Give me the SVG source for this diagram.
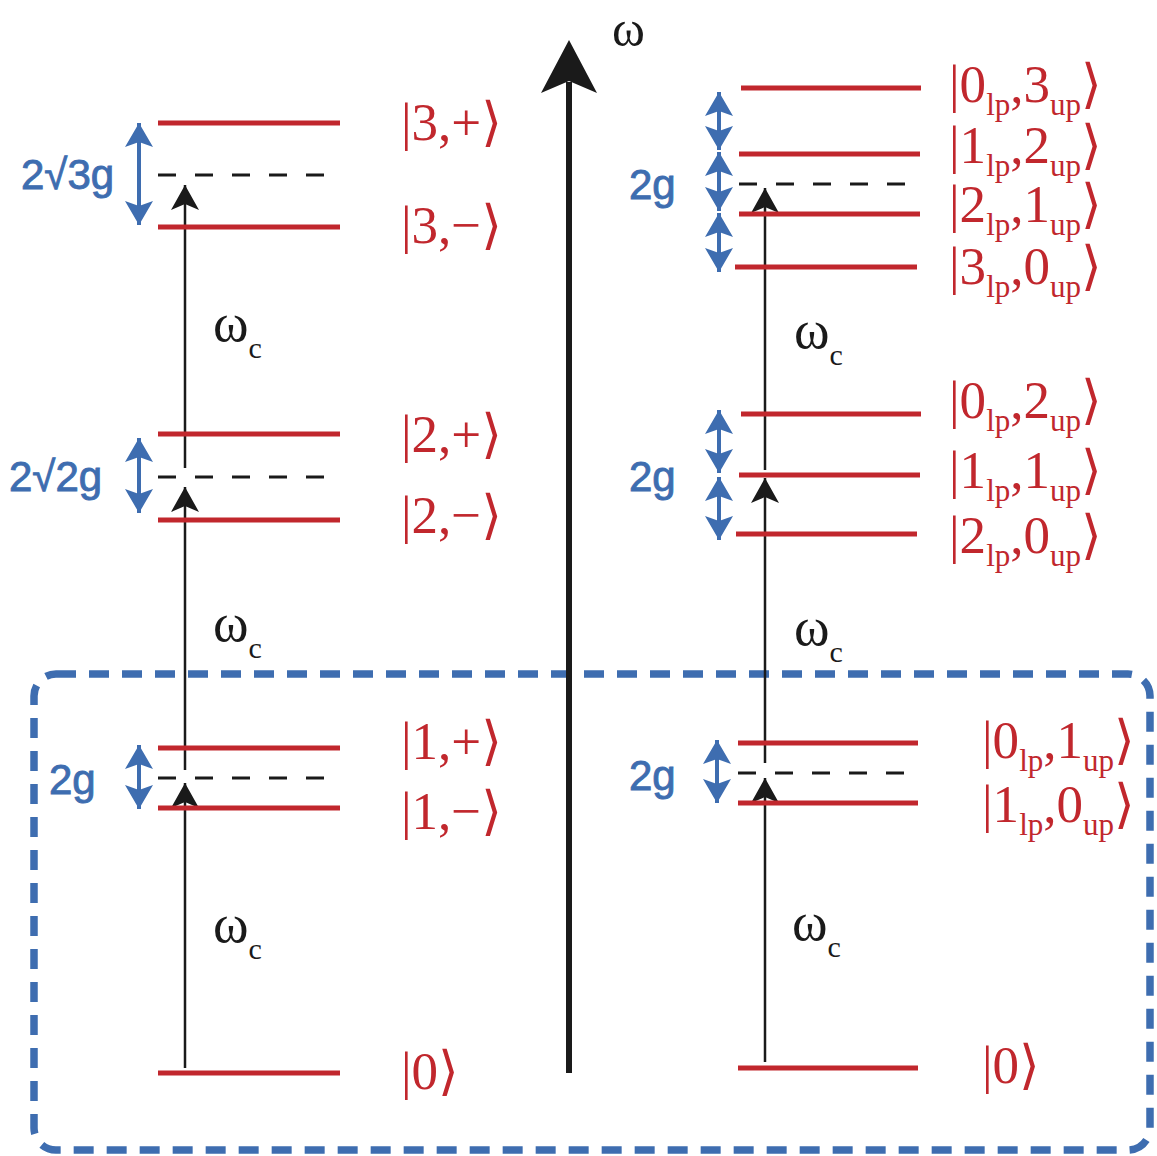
<svg xmlns="http://www.w3.org/2000/svg" width="1157" height="1156" viewBox="0 0 1157 1156">
<style>
.lvl{stroke:#c1272d;stroke-width:5;fill:none}
.dsh{stroke:#1a1a1a;stroke-width:3;stroke-dasharray:18 19;fill:none}
.tr{stroke:#1a1a1a;stroke-width:2.5;fill:none;marker-end:url(#ahk)}
.sp{stroke:#3e6db0;stroke-width:4;fill:none;marker-start:url(#ahb);marker-end:url(#ahb)}
.ket{font-family:"Liberation Serif","DejaVu Serif",serif;font-size:53px;fill:#c1272d}
.sub{font-size:31px}
.gl{font-family:"Liberation Sans",Arial,sans-serif;font-size:42px;fill:#3e6db0;stroke:#3e6db0;stroke-width:0.9}
.om{font-family:"Liberation Serif","DejaVu Serif",serif;font-size:54px;fill:#1a1a1a}
.oc{font-size:30px}
</style>
<defs>
<marker id="ahk" viewBox="-26 -15 28 30" markerWidth="28" markerHeight="30" refX="0" refY="0" orient="auto" markerUnits="userSpaceOnUse"><path d="M0,0 L-25,-14 L-19,0 L-25,14 Z" fill="#1a1a1a"/></marker>
<marker id="ahb" viewBox="-26 -15 28 30" markerWidth="28" markerHeight="30" refX="0" refY="0" orient="auto-start-reverse" markerUnits="userSpaceOnUse"><path d="M0,0 L-24,-14 L-19,0 L-24,14 Z" fill="#3e6db0"/></marker>
</defs>

<g id="box"><rect x="34" y="674" width="1116" height="476" rx="22" fill="none" stroke="#3e6db0" stroke-width="7.5" stroke-dasharray="20 13"/></g>

<g id="axis">
<line x1="569" y1="1073" x2="569" y2="82" stroke="#1a1a1a" stroke-width="6"/>
<path d="M569,40 L541,93 L569,81 L597,93 Z" fill="#1a1a1a"/>
<text x="612" y="46" class="om" style="font-size:50px">ω</text>
</g>

<g id="connectors">
<line class="tr" x1="185" y1="1068" x2="185" y2="783"/>
<line class="tr" x1="185" y1="770" x2="185" y2="487"/>
<line class="tr" x1="185" y1="468" x2="185" y2="185"/>
<line class="tr" x1="765" y1="1062" x2="765" y2="778"/>
<line class="tr" x1="765" y1="763" x2="765" y2="478"/>
<line class="tr" x1="765" y1="470" x2="765" y2="188"/>
<line class="sp" x1="139" y1="123" x2="139" y2="225"/>
<line class="sp" x1="139" y1="438" x2="139" y2="513"/>
<line class="sp" x1="139" y1="745" x2="139" y2="809"/>
<line class="sp" x1="719" y1="92" x2="719" y2="150"/>
<line class="sp" x1="719" y1="152" x2="719" y2="211"/>
<line class="sp" x1="719" y1="213" x2="719" y2="272"/>
<line class="sp" x1="719" y1="410" x2="719" y2="473"/>
<line class="sp" x1="719" y1="477" x2="719" y2="540"/>
<line class="sp" x1="717" y1="740" x2="717" y2="803"/>
</g>

<g id="left-n3">
<line class="lvl" x1="158" y1="123" x2="340" y2="123"/>
<line class="dsh" x1="158" y1="175" x2="325" y2="175"/>
<line class="lvl" x1="158" y1="227" x2="340" y2="227"/>
<text class="ket" x="401" y="140">|3,+⟩</text>
<text class="ket" x="401" y="243">|3,−⟩</text>
<text class="gl" x="21" y="189">2√3g</text>
<text class="om" x="213" y="341">ω<tspan class="oc" dy="17">c</tspan></text>
</g>

<g id="left-n2">
<line class="lvl" x1="158" y1="434" x2="340" y2="434"/>
<line class="dsh" x1="158" y1="477" x2="325" y2="477"/>
<line class="lvl" x1="158" y1="520" x2="340" y2="520"/>
<text class="ket" x="401" y="452">|2,+⟩</text>
<text class="ket" x="401" y="533">|2,−⟩</text>
<text class="gl" x="9" y="491">2√2g</text>
<text class="om" x="213" y="641">ω<tspan class="oc" dy="17">c</tspan></text>
</g>

<g id="left-n1">
<line class="lvl" x1="158" y1="748" x2="340" y2="748"/>
<line class="dsh" x1="158" y1="778" x2="325" y2="778"/>
<line class="lvl" x1="158" y1="808" x2="340" y2="808"/>
<text class="ket" x="401" y="759">|1,+⟩</text>
<text class="ket" x="401" y="829">|1,−⟩</text>
<text class="gl" x="49" y="794">2g</text>
<text class="om" x="213" y="942">ω<tspan class="oc" dy="17">c</tspan></text>
</g>

<g id="left-n0">
<line class="lvl" x1="158" y1="1073" x2="340" y2="1073"/>
<text class="ket" x="401" y="1089">|0⟩</text>
</g>

<g id="right-n3">
<line class="lvl" x1="741" y1="88" x2="921" y2="88"/>
<line class="lvl" x1="739" y1="154" x2="920" y2="154"/>
<line class="dsh" x1="739" y1="184" x2="905" y2="184"/>
<line class="lvl" x1="739" y1="214" x2="920" y2="214"/>
<line class="lvl" x1="735" y1="267" x2="917" y2="267"/>
<text class="ket" x="949" y="102">|0<tspan class="sub" dy="13">lp</tspan><tspan dy="-13">,3</tspan><tspan class="sub" dy="13">up</tspan><tspan dy="-13">⟩</tspan></text>
<text class="ket" x="949" y="163">|1<tspan class="sub" dy="13">lp</tspan><tspan dy="-13">,2</tspan><tspan class="sub" dy="13">up</tspan><tspan dy="-13">⟩</tspan></text>
<text class="ket" x="949" y="222">|2<tspan class="sub" dy="13">lp</tspan><tspan dy="-13">,1</tspan><tspan class="sub" dy="13">up</tspan><tspan dy="-13">⟩</tspan></text>
<text class="ket" x="949" y="284">|3<tspan class="sub" dy="13">lp</tspan><tspan dy="-13">,0</tspan><tspan class="sub" dy="13">up</tspan><tspan dy="-13">⟩</tspan></text>
<text class="gl" x="629" y="199">2g</text>
<text class="om" x="794" y="348">ω<tspan class="oc" dy="17">c</tspan></text>
</g>

<g id="right-n2">
<line class="lvl" x1="741" y1="414" x2="921" y2="414"/>
<line class="lvl" x1="739" y1="475" x2="920" y2="475"/>
<line class="lvl" x1="736" y1="534" x2="917" y2="534"/>
<text class="ket" x="949" y="418">|0<tspan class="sub" dy="13">lp</tspan><tspan dy="-13">,2</tspan><tspan class="sub" dy="13">up</tspan><tspan dy="-13">⟩</tspan></text>
<text class="ket" x="949" y="488">|1<tspan class="sub" dy="13">lp</tspan><tspan dy="-13">,1</tspan><tspan class="sub" dy="13">up</tspan><tspan dy="-13">⟩</tspan></text>
<text class="ket" x="949" y="553">|2<tspan class="sub" dy="13">lp</tspan><tspan dy="-13">,0</tspan><tspan class="sub" dy="13">up</tspan><tspan dy="-13">⟩</tspan></text>
<text class="gl" x="629" y="491">2g</text>
<text class="om" x="794" y="645">ω<tspan class="oc" dy="17">c</tspan></text>
</g>

<g id="right-n1">
<line class="lvl" x1="738" y1="743" x2="918" y2="743"/>
<line class="dsh" x1="738" y1="773" x2="905" y2="773"/>
<line class="lvl" x1="738" y1="803" x2="918" y2="803"/>
<text class="ket" x="982" y="758">|0<tspan class="sub" dy="13">lp</tspan><tspan dy="-13">,1</tspan><tspan class="sub" dy="13">up</tspan><tspan dy="-13">⟩</tspan></text>
<text class="ket" x="982" y="822">|1<tspan class="sub" dy="13">lp</tspan><tspan dy="-13">,0</tspan><tspan class="sub" dy="13">up</tspan><tspan dy="-13">⟩</tspan></text>
<text class="gl" x="629" y="790">2g</text>
<text class="om" x="792" y="940">ω<tspan class="oc" dy="17">c</tspan></text>
</g>

<g id="right-n0">
<line class="lvl" x1="738" y1="1068" x2="918" y2="1068"/>
<text class="ket" x="982" y="1083">|0⟩</text>
</g>
</svg>
